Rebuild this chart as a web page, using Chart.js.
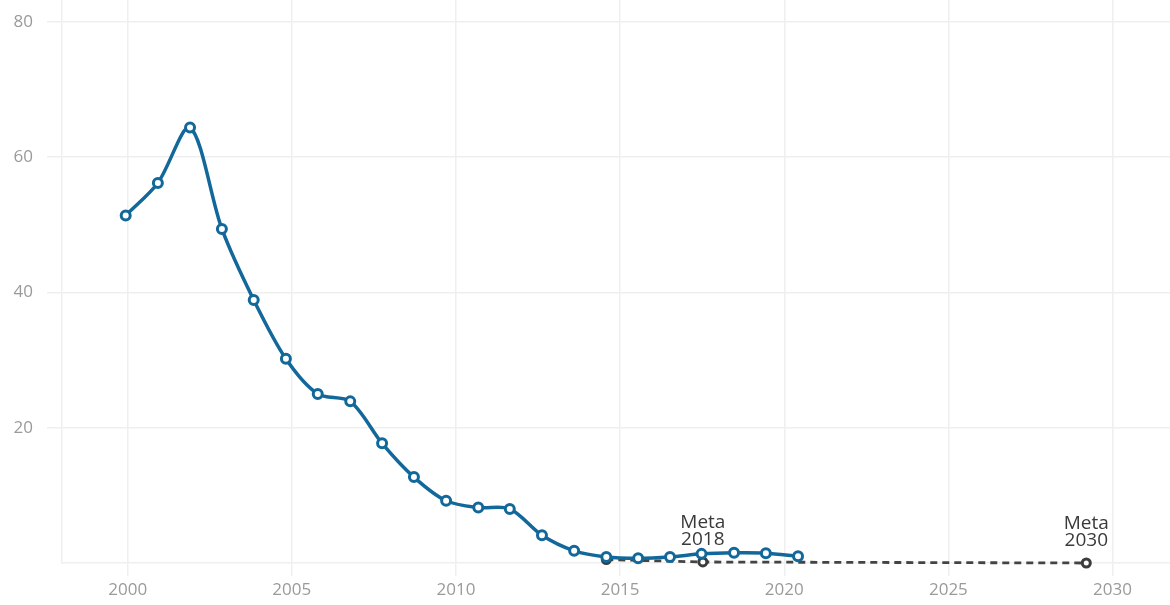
<!DOCTYPE html>
<html>
<head>
<meta charset="utf-8">
<script src="https://cdn.jsdelivr.net/npm/chart.js@4"></script>
<style>
  html, body { margin: 0; padding: 0; background: #fff; }
  #wrap { width: 1170px; height: 605px; }
</style>
</head>
<body>
<div id="wrap"><canvas id="chart"></canvas></div>
<script>
// datos
const years = [1999.94, 2000.92, 2001.9, 2002.87, 2003.84, 2004.82, 2005.79, 2006.78, 2007.75, 2008.72,
               2009.7, 2010.68, 2011.64, 2012.62, 2013.6, 2014.58, 2015.55, 2016.52, 2017.48, 2018.47, 2019.44, 2020.42];
const values = [51.4, 56.2, 64.4, 49.4, 38.9, 30.2, 25.0, 23.9, 17.7, 12.7,
                9.2, 8.2, 8.0, 4.1, 1.8, 0.9, 0.7, 0.9, 1.35, 1.5, 1.45, 1.0];

const metaYears = [2014.58, 2017.52, 2029.2];
const metaValues = [0.5, 0.15, 0.0];
const metaLabels = ['', 'Meta 2018', 'Meta 2030'];

const xTicks = [2000, 2005, 2010, 2015, 2020, 2025, 2030];
const yTicks = [20, 40, 60, 80];

const gridColor = '#efefef';
const tickColor = '#9a9a9a';

// etiquetas "Meta" encima de los puntos
const metaLabelPlugin = {
    id: 'metaLabels',
    afterDatasetsDraw(chart) {
        const ctx = chart.ctx;
        const xs = chart.scales.x, ys = chart.scales.y;
        ctx.save();
        ctx.fillStyle = '#3a3a3a';
        ctx.font = '19px "Open Sans"';
        ctx.textAlign = 'center';
        ctx.textBaseline = 'middle';
        metaLabels.forEach((lbl, i) => {
            if (!lbl) return;
            const px = xs.getPixelForValue(metaYears[i]);
            const py = ys.getPixelForValue(metaValues[i]);
            const parts = lbl.split(' ');
            ctx.fillText(parts[0], px, py - 39);
            ctx.fillText(parts[1], px, py - 22);
        });
        ctx.restore();
    }
};

new Chart(document.getElementById('chart'), {
    type: 'line',
    data: {
        datasets: [
            {
                data: metaYears.map((x, i) => ({ x, y: metaValues[i] })),
                borderColor: '#444',
                borderWidth: 2.8,
                borderDash: [7, 5],
                pointRadius: 4,
                pointBorderWidth: 3,
                pointBackgroundColor: '#fff',
                pointBorderColor: '#3c3c3c',
                tension: 0,
                clip: false,
                order: 2
            },
            {
                data: years.map((x, i) => ({ x, y: values[i] })),
                borderColor: '#12689a',
                borderWidth: 3.5,
                pointRadius: 4.5,
                pointBorderWidth: 3,
                pointBackgroundColor: '#fff',
                pointBorderColor: '#12689a',
                tension: 0.3,
                clip: false,
                order: 1
            }
        ]
    },
    options: {
        responsive: true,
        maintainAspectRatio: false,
        animation: false,
        layout: { padding: 0, autoPadding: false },
        plugins: { legend: { display: false }, tooltip: { enabled: false } },
        scales: {
            x: {
                type: 'linear',
                min: 1998.0,
                max: 2031.75,
                afterBuildTicks: axis => { axis.ticks = xTicks.map(v => ({ value: v })); },
                afterFit: axis => { axis.height = 42; axis.paddingLeft = 0; axis.paddingRight = 0; },
                grid: { color: gridColor, lineWidth: 1.5, tickLength: 13 },
                border: { color: gridColor, width: 1.5 },
                ticks: {
                    color: tickColor,
                    font: { family: 'Open Sans', size: 17 },
                    padding: 4,
                    maxRotation: 0,
                    callback: v => String(v)
                }
            },
            y: {
                min: 0,
                max: 83.25,
                afterBuildTicks: axis => { axis.ticks = yTicks.map(v => ({ value: v })); },
                afterFit: axis => { axis.width = 62; axis.paddingTop = 0; axis.paddingBottom = 0; },
                grid: { color: gridColor, lineWidth: 1.5, tickLength: 15 },
                border: { color: gridColor, width: 1.5 },
                ticks: {
                    color: tickColor,
                    font: { family: 'Open Sans', size: 17 },
                    padding: 14
                }
            }
        }
    },
    plugins: [metaLabelPlugin]
});
</script>
</body>
</html>
